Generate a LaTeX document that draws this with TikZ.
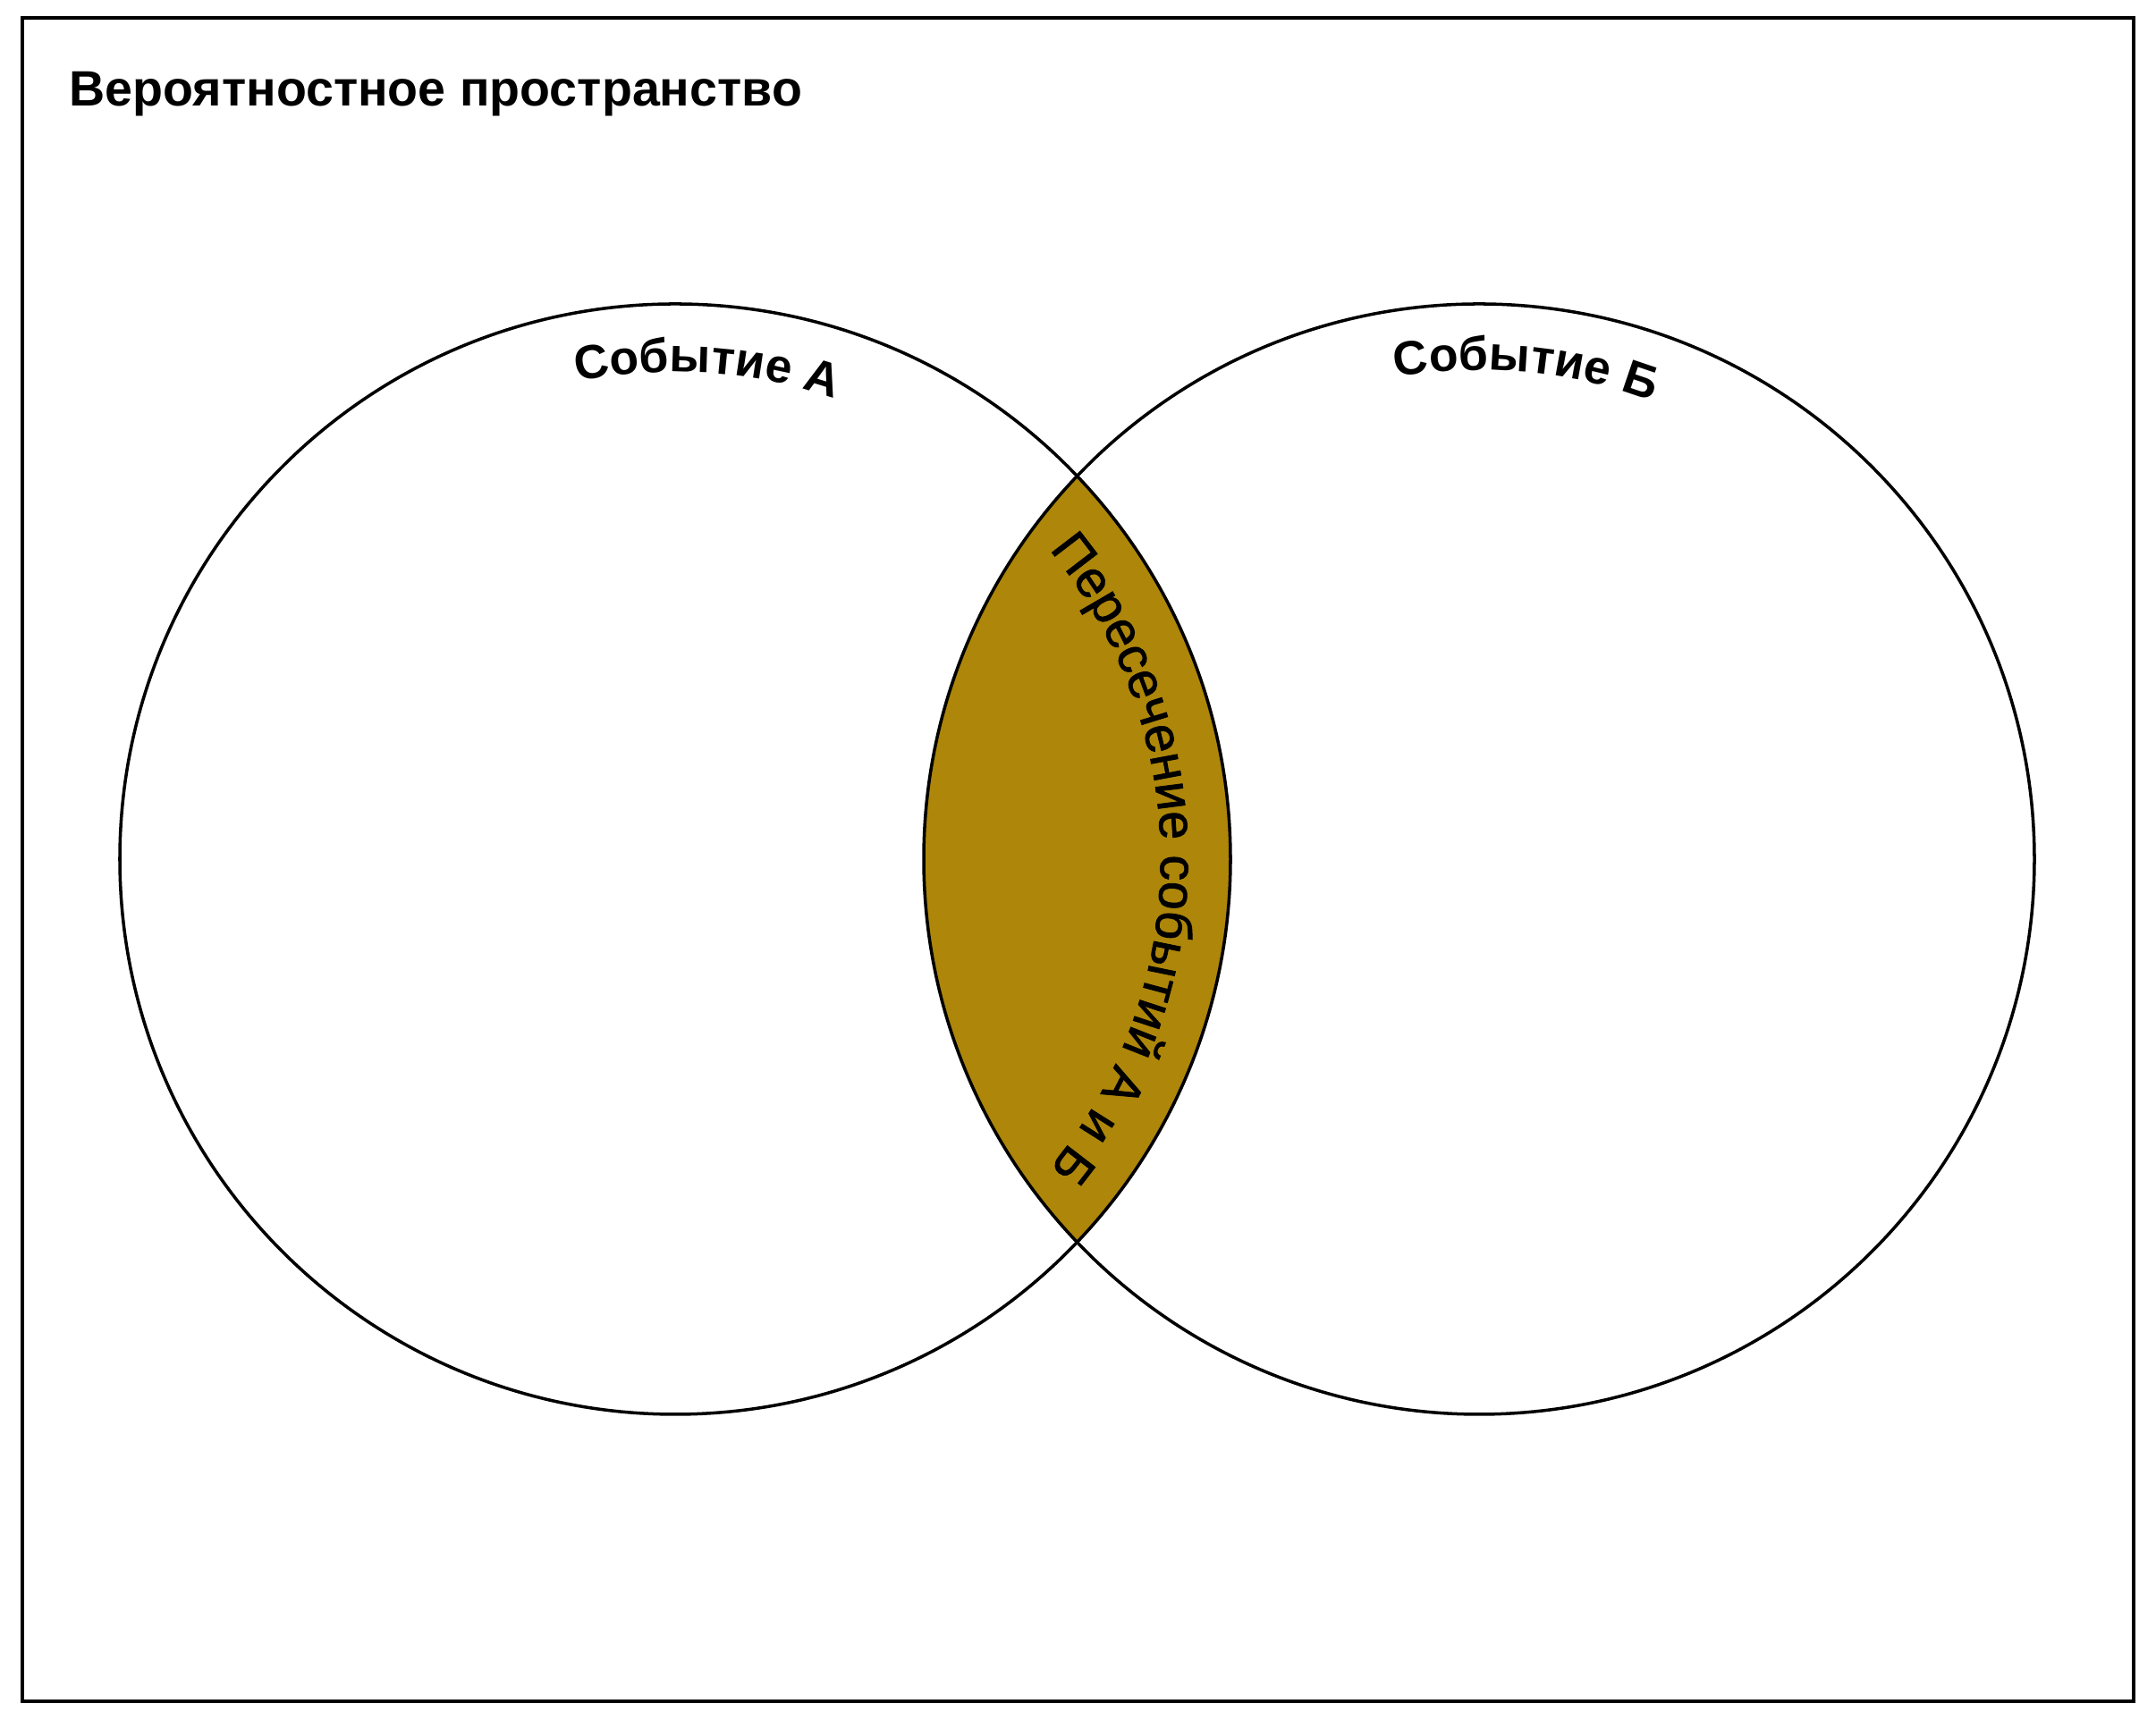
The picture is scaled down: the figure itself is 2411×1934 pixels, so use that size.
\documentclass[tikz,border=0pt]{standalone}
\usepackage{fontspec}
\setmainfont{Liberation Sans}
\newfontfamily\medfont{Liberation Sans}[FakeBold=1.4]
\usetikzlibrary{decorations.text,calc}
\definecolor{lensfill}{RGB}{173,134,10}
\begin{document}
\begin{tikzpicture}[x=0.01cm,y=0.01cm,
  circ/.style={line width=1pt},
  arctext/.style={decorate, decoration={text along path, text align=center, text={#1}}}]
\useasboundingbox (0,0) rectangle (2411,1934);
\draw[line width=1.15pt] (25,31) rectangle (2386,1914);
\node[anchor=base west, inner sep=0pt, font=\fontsize{15.8}{19}\selectfont\bfseries] (title) at (77,1815) {Вероятностное пространство};
\coordinate (ca) at (755,973);
\coordinate (cb) at (1654,973);
\begin{scope}
  \clip (ca) circle[radius=621];
  \fill[lensfill] (cb) circle[radius=621];
\end{scope}
\draw[circ] (ca) circle[radius=621];
\draw[circ] (cb) circle[radius=621];
\path[arctext={|\fontsize{15.2}{18}\selectfont\bfseries|Событие А}] ($(ca)+(116.25:545)$) arc[start angle=116.25, end angle=56.25, radius=545];
\path[arctext={|\fontsize{15.2}{18}\selectfont\bfseries|Событие Б}] ($(cb)+(114.5:547)$) arc[start angle=114.5, end angle=54.5, radius=547];
\path[arctext={|\fontsize{16.3}{19}\selectfont\medfont|Пересечение событий А и Б}] ($(ca)+(50:543)$) arc[start angle=50, end angle=-50, radius=543];
\end{tikzpicture}
\end{document}
